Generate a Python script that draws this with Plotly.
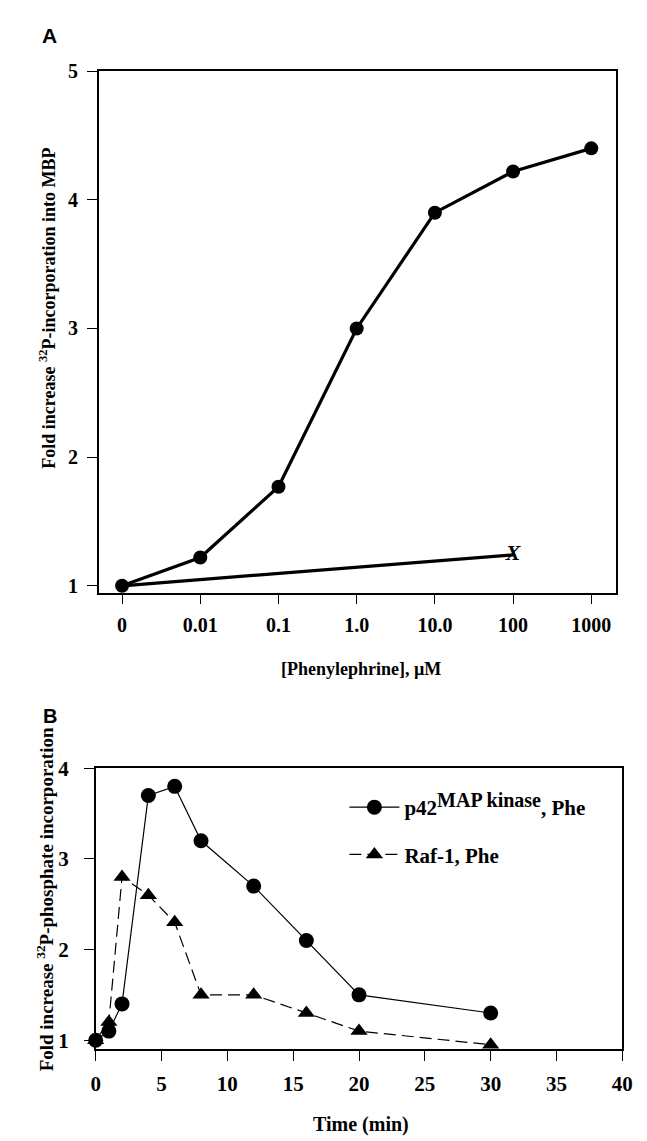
import plotly.graph_objects as go

# ---------------- data ----------------
# Panel A
conc_labels = ["0", "0.01", "0.1", "1.0", "10.0", "100", "1000"]
mbp_fold = [1.0, 1.22, 1.77, 3.0, 3.9, 4.22, 4.4]
ctrl_labels = ["0", "100"]
ctrl_fold = [1.0, 1.24]
ctrl_mark = "X"

# Panel B
time_min = [0, 1, 2, 4, 6, 8, 12, 16, 20, 30]
p42_fold = [1.0, 1.1, 1.4, 3.7, 3.8, 3.2, 2.7, 2.1, 1.5, 1.3]
raf_fold = [1.0, 1.2, 2.8, 2.6, 2.3, 1.5, 1.5, 1.3, 1.1, 0.95]

ya_ticks = [1, 2, 3, 4, 5]
yb_ticks = [1, 2, 3, 4]
xb_ticks = [0, 5, 10, 15, 20, 25, 30, 35, 40]

W, H = 647, 1141
SERIF = "Liberation Serif"
tickfont_a = dict(family=SERIF, size=20, color="black", weight="bold")
tickfont_b = dict(family=SERIF, size=21, color="black", weight="bold")

fig = go.Figure()

fig.add_trace(go.Scatter(
    x=conc_labels, y=mbp_fold, mode="lines+markers",
    line=dict(color="black", width=3.2),
    marker=dict(symbol="circle", size=14, color="black"),
    xaxis="x", yaxis="y", showlegend=False, cliponaxis=False))
fig.add_trace(go.Scatter(
    x=ctrl_labels, y=ctrl_fold, mode="lines",
    line=dict(color="black", width=3.2),
    xaxis="x", yaxis="y", showlegend=False, cliponaxis=False))
fig.add_trace(go.Scatter(
    x=ctrl_labels[-1:], y=ctrl_fold[-1:], mode="text", text=[ctrl_mark],
    textposition="middle center",
    textfont=dict(family=SERIF, size=22, color="black", weight="bold", style="italic"),
    xaxis="x", yaxis="y", showlegend=False, cliponaxis=False))

fig.add_trace(go.Scatter(
    x=time_min, y=p42_fold, mode="lines+markers",
    name='p42<sup><span style="font-size:20px">MAP kinase</span></sup>, Phe',
    line=dict(color="black", width=1.2),
    marker=dict(symbol="circle", size=15, color="black"),
    xaxis="x2", yaxis="y2", legend="legend", cliponaxis=False))
fig.add_trace(go.Scatter(
    x=time_min, y=raf_fold, mode="lines+markers",
    name="Raf-1, Phe",
    line=dict(color="black", width=1.2, dash="12px,6px"),
    marker=dict(symbol="triangle-up", size=15, color="black"),
    xaxis="x2", yaxis="y2", legend="legend2", cliponaxis=False))

def px_x(p):
    return p / W

def px_y(p):
    return (H - p) / H

axis_common = dict(showline=True, linecolor="black", linewidth=1.5, mirror=True,
                   ticks="outside", ticklen=10, tickwidth=1.2, tickcolor="black",
                   showgrid=False, zeroline=False)

legend_font = dict(family=SERIF, size=21, color="black", weight="bold")

fig.update_layout(
    width=W, height=H, margin=dict(l=0, r=0, t=0, b=0),
    paper_bgcolor="white", plot_bgcolor="white",
    xaxis=dict(domain=[px_x(96), px_x(626)], anchor="y", type="category",
               categoryorder="array", categoryarray=conc_labels,
               range=[-0.3, 6.31], tickfont=tickfont_a, ticklabelstandoff=4,
               **axis_common),
    yaxis=dict(domain=[px_y(589), px_y(60)], anchor="x", range=[0.946, 5],
               tickvals=ya_ticks, ticklabelstandoff=5, tickfont=tickfont_a,
               **axis_common),
    xaxis2=dict(domain=[px_x(93), px_x(633)], anchor="y2", range=[0, 40],
                tickvals=xb_ticks, tickfont=tickfont_b, ticklabelstandoff=5,
                **axis_common),
    yaxis2=dict(domain=[px_y(1052), px_y(767)], anchor="x2", range=[0.9, 4],
                tickvals=yb_ticks, ticklabelstandoff=11, tickfont=tickfont_b,
                **axis_common),
    legend=dict(x=px_x(348), y=px_y(786), xanchor="left", yanchor="top",
                bgcolor="rgba(0,0,0,0)", itemwidth=50, font=legend_font),
    legend2=dict(x=px_x(348), y=px_y(834), xanchor="left", yanchor="top",
                 bgcolor="rgba(0,0,0,0)", itemwidth=50, font=legend_font),
)

fig.add_annotation(text="A", x=px_x(46), y=px_y(24), xref="paper", yref="paper",
                   showarrow=False, xanchor="center", yanchor="middle",
                   font=dict(family="Liberation Sans", size=21, color="black", weight="bold"))
fig.add_annotation(text="B", x=px_x(46), y=px_y(714), xref="paper", yref="paper",
                   showarrow=False, xanchor="center", yanchor="middle",
                   font=dict(family="Liberation Sans", size=20, color="black", weight="bold"))
fig.add_annotation(text="Fold increase <sup>32</sup>P-incorporation into MBP",
                   x=px_x(44), y=px_y(300), xref="paper", yref="paper", textangle=-90,
                   showarrow=False, xanchor="center", yanchor="middle",
                   font=dict(family=SERIF, size=18, color="black", weight="bold"))
fig.add_annotation(text="Fold increase <sup>32</sup>P-phosphate incorporation",
                   x=px_x(41), y=px_y(900), xref="paper", yref="paper", textangle=-90,
                   showarrow=False, xanchor="center", yanchor="middle",
                   font=dict(family=SERIF, size=19, color="black", weight="bold"))
fig.add_annotation(text="[Phenylephrine], \u00b5M",
                   x=px_x(365), y=px_y(666), xref="paper", yref="paper",
                   showarrow=False, xanchor="center", yanchor="middle",
                   font=dict(family=SERIF, size=18, color="black", weight="bold"))
fig.add_annotation(text="Time (min)",
                   x=px_x(365), y=px_y(1128), xref="paper", yref="paper",
                   showarrow=False, xanchor="center", yanchor="middle",
                   font=dict(family=SERIF, size=20, color="black", weight="bold"))

fig.write_html("out.html")
